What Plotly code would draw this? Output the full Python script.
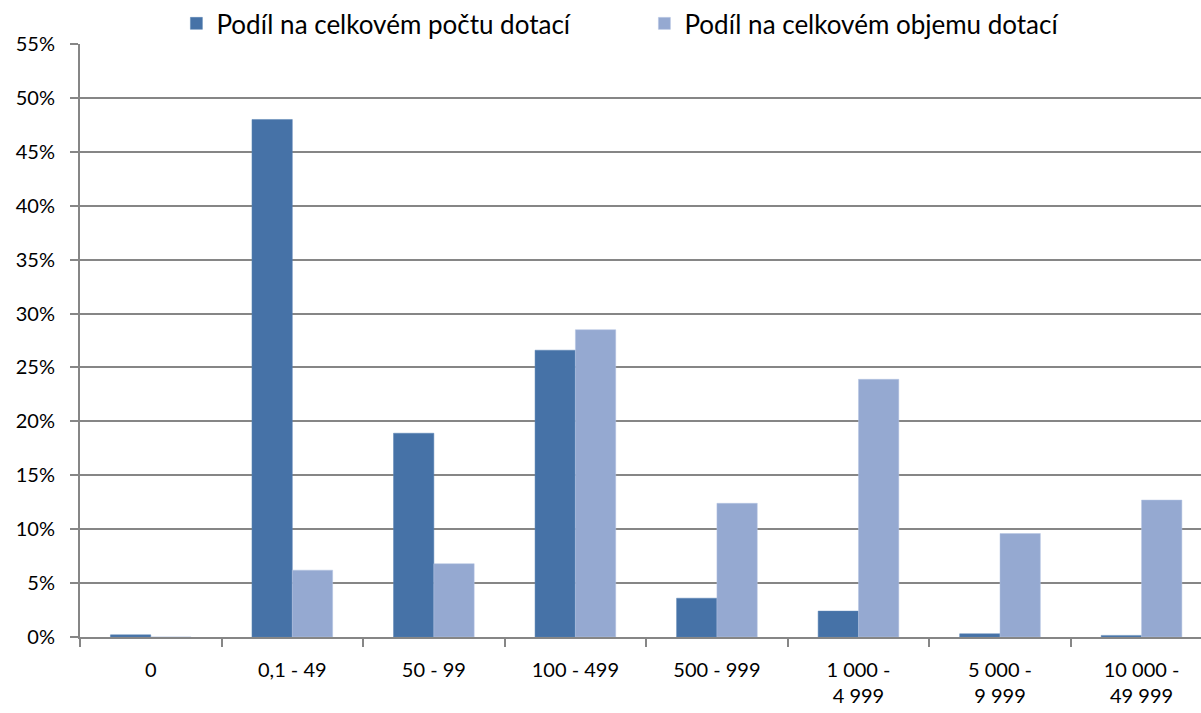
import plotly.graph_objects as go

categories = ["0", "0,1 - 49", "50 - 99", "100 - 499", "500 - 999",
              "1 000 -<br>4 999", "5 000 -<br>9 999", "10 000 -<br>49 999"]
podil_pocet = [0.2, 48.0, 18.9, 26.6, 3.6, 2.4, 0.3, 0.15]
podil_objem = [0.0, 6.2, 6.8, 28.5, 12.4, 23.9, 9.6, 12.7]
series_names = ["Podíl na celkovém počtu dotací", "Podíl na celkovém objemu dotací"]
y_ticks = list(range(0, 56, 5))

FONT = "Lato"
fig = go.Figure()
fig.add_trace(go.Bar(x=categories, y=podil_pocet, name=series_names[0],
                     marker=dict(color="#4672A7", line=dict(color="#5A84B5", width=0.5))))
fig.add_trace(go.Bar(x=categories, y=podil_objem, name=series_names[1],
                     marker=dict(color="#95A9D1", line=dict(color="#B4C4E2", width=0.5))))

fig.update_layout(
    width=1201, height=713,
    margin=dict(l=80, r=0, t=44, b=76, autoexpand=False),
    plot_bgcolor="white", paper_bgcolor="white",
    barmode="group", bargap=0.43, bargroupgap=0,
    font=dict(family=FONT, size=20, color="black"),
    legend=dict(orientation="h", x=0.086, xanchor="left", y=0.995, yanchor="bottom",
                font=dict(size=26), itemwidth=30, traceorder="normal",
                entrywidth=423, bgcolor="rgba(0,0,0,0)"),
    showlegend=True,
)
fig.update_xaxes(
    range=[-0.5, 7.42], showline=True, linecolor="#868686", linewidth=2,
    tickson="boundaries", ticks="outside", ticklen=8, tickcolor="#868686", tickwidth=2,
    showgrid=False, tickfont=dict(size=20), ticklabelstandoff=14, automargin=False,
)
fig.update_yaxes(
    range=[0, 55], tickvals=y_ticks, ticktext=[f"{v}%" for v in y_ticks],
    showline=True, linecolor="#868686", linewidth=2,
    ticks="outside", ticklen=8, tickcolor="#868686", tickwidth=2,
    showgrid=True, gridcolor="#868686", gridwidth=1.5, zeroline=False,
    tickfont=dict(size=20), ticklabelstandoff=11, automargin=False,
)
fig.write_html("out.html", config={"displayModeBar": False},
               post_script="document.body.style.margin='0';document.body.style.overflow='hidden';")
